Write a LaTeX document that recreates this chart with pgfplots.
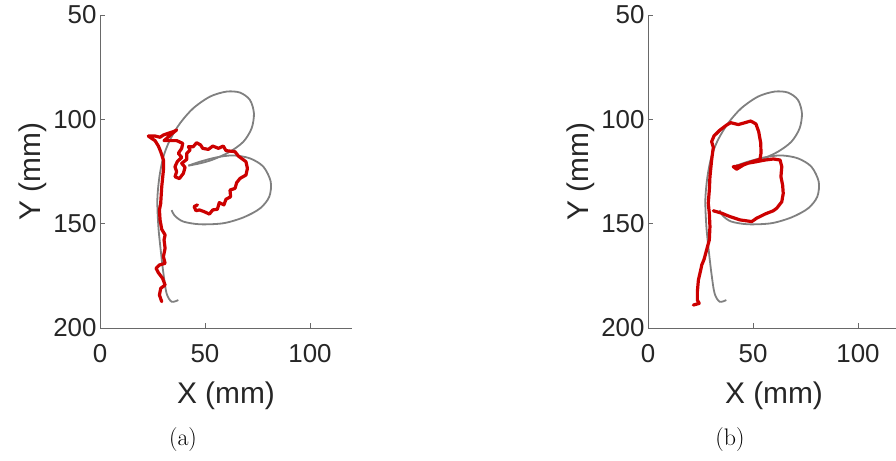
\documentclass[border=0pt]{standalone}
\usepackage{pgfplots}
\pgfplotsset{compat=1.18}
\usepackage{fontspec}
\newfontfamily\arialf{Liberation Sans}
\definecolor{tracered}{RGB}{204,0,0}
\definecolor{refgray}{RGB}{128,128,128}
\definecolor{axgray}{RGB}{105,105,105}
\definecolor{txt}{RGB}{38,38,38}

\pgfplotsset{myax/.style={
  scale only axis, width=252bp, height=313bp,
  xmin=0, xmax=120, ymin=50, ymax=200, y dir=reverse,
  axis x line*=bottom, axis y line*=left,
  xtick={0,50,100}, ytick={50,100,150,200},
  tick align=inside, major tick length=5bp,
  axis line style={axgray, line width=0.9bp},
  every tick/.style={axgray, line width=0.9bp},
  tick label style={font=\fontsize{26}{30}\arialf, text=txt},
  xticklabel style={yshift=-13bp},
  /pgf/number format/assume math mode=true,
  label style={font=\fontsize{30}{34}\arialf, text=txt},
  xlabel={X (mm)}, ylabel={Y (mm)},
  xlabel style={yshift=-12bp},
  anchor=south west,
}}

\pgfplotsset{refA/.style={refgray, line width=1.8bp, smooth},
  trace/.style={tracered, line width=3.2bp, line join=round, line cap=round}}

\newcommand{\refcurve}{%
  \addplot[refA] coordinates {(37.3,186.6) (34.1,187.4) (31.7,183.4) (30.2,173.8) (28.9,162.6) (27.8,151.4) (27.3,138.7) (28.3,127.5) (30.2,117.9) (33.3,109.9) (38.1,101.9) (44.4,94.7) (52.4,89.1) (60.3,86.7) (66.7,87.2) (71.4,90.7) (73.3,97.1) (72.2,104.3) (68.3,110.7) (61.9,115.5) (54.0,119.2) (47.6,121.1) (42.1,122.2)};
  \addplot[refA] coordinates {(42.1,122.2) (47.6,120.3) (55.6,118.2) (63.5,117.3) (71.4,118.7) (77.8,122.7) (81.3,129.9) (80.6,137.1) (76.2,142.7) (68.3,147.0) (58.7,149.8) (47.6,150.3) (39.7,149.0) (35.7,146.3) (34.1,143.5)};
}

\begin{document}
\begin{tikzpicture}
\begin{axis}[myax, at={(100bp,133bp)}]
\refcurve
\addplot[trace] coordinates {
(29.4,187.4) (28.3,184.2) (28.9,181.0) (31.0,179.4) (29.8,176.2) (27.8,173.5) (26.7,171.4) (28.3,169.8) (31.0,169.0) (30.2,165.8) (31.0,161.8) (30.5,157.8) (31.0,155.4) (29.4,152.7) (28.6,148.2) (28.3,143.4) (28.9,140.3) (29.4,132.3) (30.2,124.3) (30.2,119.5) (28.9,115.5) (27.8,112.8) (26.2,110.2) (23.8,108.6) (23.0,108.0) (26.2,108.0) (28.6,108.6) (30.2,107.5) (32.5,106.7) (34.9,105.9) (36.5,105.1) (34.1,107.0) (31.8,109.1) (30.5,110.2) (33.3,110.2) (36.5,110.2) (39.4,111.5) (38.9,113.9) (37.3,116.3) (38.9,118.2) (36.8,120.3) (35.7,122.7) (36.5,125.1) (35.7,127.5) (37.8,128.4) (39.7,125.9) (40.5,123.0) (38.9,121.1) (41.3,119.2) (41.3,116.3) (42.9,114.7) (42.1,113.1) (44.4,113.1) (46.0,111.2) (47.9,112.3) (48.9,113.9) (51.6,114.4) (53.7,112.8) (56.4,113.9) (58.7,112.8) (60.0,115.0) (64.3,115.5) (65.9,117.6) (69.5,120.3) (70.2,123.5) (69.5,126.7) (66.7,128.3) (65.1,130.3) (64.3,133.1) (61.9,133.9) (62.2,137.1) (60.0,138.3) (59.0,141.0) (56.8,139.9) (55.9,143.1) (53.7,143.4) (52.1,145.4) (49.5,144.2) (47.3,143.4) (45.7,143.8) (44.8,141.8) (46.4,141.0)};
\end{axis}
\begin{axis}[myax, at={(648bp,133bp)}]
\refcurve
\addplot[trace] coordinates {
(21.6,189.0) (24.4,188.2) (23.5,186.6) (23.5,182.6) (24.0,177.0) (25.1,172.2) (25.6,169.8) (26.7,167.1) (27.9,162.6) (29.2,157.8) (29.5,151.4) (29.2,145.0) (28.7,140.2) (29.2,133.9) (29.5,127.5) (30.3,119.5) (31.1,113.4) (30.3,110.7) (31.4,108.0) (34.3,105.1) (37.5,102.7) (39.4,101.6) (43.0,102.5) (46.2,101.6) (48.9,100.8) (51.4,102.2) (52.7,105.9) (53.7,111.5) (53.8,116.3) (53.3,119.2) (49.4,120.3) (45.4,121.9) (42.2,123.9) (40.6,122.7) (43.0,122.4) (47.0,121.1) (51.7,120.3) (55.7,119.5) (59.7,119.0) (62.9,119.5) (63.7,122.7) (63.3,127.5) (64.1,131.5) (64.4,135.5) (63.7,139.5) (61.3,142.6) (59.7,143.8) (55.7,145.4) (51.7,147.4) (49.4,149.0) (43.8,148.2) (39.0,146.6) (35.1,145.0) (31.1,143.8)};
\end{axis}
\node[font=\fontsize{24}{28}\selectfont, text=black] at (183bp,21bp) {(a)};
\node[font=\fontsize{24}{28}\selectfont, text=black] at (730bp,21bp) {(b)};
\pgfresetboundingbox
\path (0,0) rectangle (896bp,461bp);
\end{tikzpicture}
\end{document}
